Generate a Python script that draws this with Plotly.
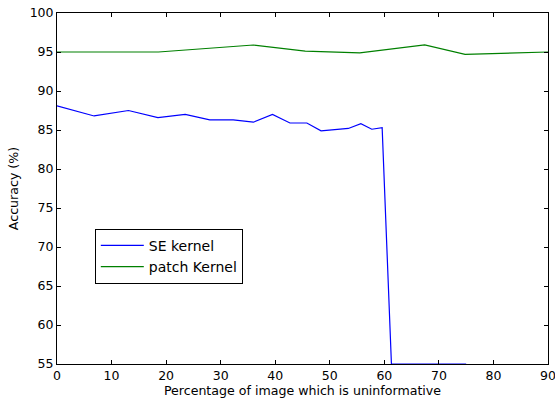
import plotly.graph_objects as go

se_x = [0, 6.8, 13.1, 18.5, 23.5, 28.0, 32.3, 36.0, 39.5, 42.7, 45.8, 48.4, 53.4, 55.7, 57.7, 59.6, 61.3, 75.0]
se_y = [88.1, 86.8, 87.5, 86.6, 87.0, 86.3, 86.3, 86.0, 87.0, 85.9, 85.9, 84.9, 85.2, 85.8, 85.1, 85.3, 55.0, 55.0]

patch_x = [0, 18.6, 36.0, 45.5, 55.5, 67.4, 74.8, 90.0]
patch_y = [95.0, 95.0, 95.9, 95.1, 94.9, 95.9, 94.7, 95.0]

x_ticks = [0, 10, 20, 30, 40, 50, 60, 70, 80, 90]
y_ticks = [55, 60, 65, 70, 75, 80, 85, 90, 95, 100]

fig = go.Figure()
fig.add_trace(go.Scatter(x=se_x, y=se_y, mode="lines", name="SE kernel",
                         line=dict(color="#0000ff", width=1.2)))
fig.add_trace(go.Scatter(x=patch_x, y=patch_y, mode="lines", name="patch Kernel",
                         line=dict(color="#008000", width=1.2)))

axis_common = dict(showline=True, linecolor="black", linewidth=1, mirror="ticks",
                   ticks="inside", ticklen=4, tickcolor="black", showgrid=False,
                   zeroline=False, automargin=False, ticklabeloverflow="allow",
                   tickfont=dict(size=12.5, color="black"))

fig.update_xaxes(range=[0, 90], tickvals=x_ticks,
                 title=dict(text="Percentage of image which is uninformative",
                            font=dict(size=12.6, color="black"), standoff=2),
                 **axis_common)
fig.update_yaxes(range=[55, 100], tickvals=y_ticks,
                 title=dict(text="Accuracy (%)", font=dict(size=12.6, color="black"), standoff=8),
                 **axis_common)

fig.update_layout(
    width=555, height=401,
    margin=dict(l=57, r=7, t=13, b=37),
    paper_bgcolor="white", plot_bgcolor="white",
    font=dict(family="DejaVu Sans", size=12, color="black"),
    legend=dict(x=0.077, y=0.385, xanchor="left", yanchor="top",
                bordercolor="black", borderwidth=1, bgcolor="white",
                font=dict(size=14), tracegroupgap=0, itemwidth=43),
    showlegend=True,
)

fig.write_html("out.html", config={"displayModeBar": False},
               post_script="document.body.style.margin='0';document.body.style.overflow='hidden';")
